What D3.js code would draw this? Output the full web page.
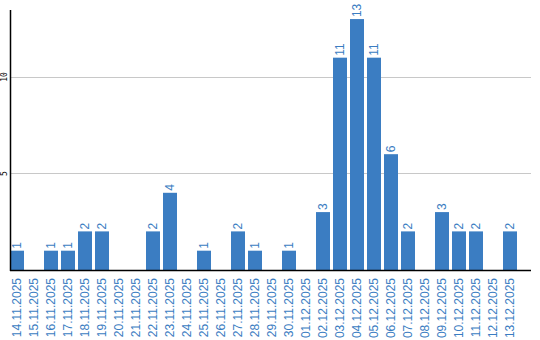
<!DOCTYPE html>
<html><head><meta charset="utf-8">
<script src="https://cdn.jsdelivr.net/npm/d3@7"></script>
<style>body{margin:0;background:#fff}svg{display:block}</style>
</head><body>
<script>
const categories = ["14.11.2025","15.11.2025","16.11.2025","17.11.2025","18.11.2025","19.11.2025","20.11.2025","21.11.2025","22.11.2025","23.11.2025","24.11.2025","25.11.2025","26.11.2025","27.11.2025","28.11.2025","29.11.2025","30.11.2025","01.12.2025","02.12.2025","03.12.2025","04.12.2025","05.12.2025","06.12.2025","07.12.2025","08.12.2025","09.12.2025","10.12.2025","11.12.2025","12.12.2025","13.12.2025"];
const values = [1,0,1,1,2,2,0,0,2,4,0,1,0,2,1,0,1,0,3,11,13,11,6,2,0,3,2,2,0,2];
const yTicks = [5,10];

const W = 540, H = 340;
const blue = "#3b7dc2";
const svg = d3.select("body").append("svg").attr("width", W).attr("height", H);

const x = d3.scaleBand().domain(categories).range([10, 517]).paddingInner(3/17).paddingOuter(0);
const y = d3.scaleLinear().domain([0, 13.47]).range([270, 10]);

// gridlines
svg.append("g").selectAll("line").data(yTicks).join("line")
  .attr("x1", 10).attr("x2", 531)
  .attr("y1", d => Math.round(y(d)) + 0.5).attr("y2", d => Math.round(y(d)) + 0.5)
  .attr("stroke", "#c8c8c8").attr("stroke-width", 1);

// y tick labels
svg.append("g").selectAll("text").data(yTicks).join("text")
  .attr("transform", d => `translate(7,${y(d)}) rotate(-90)`)
  .attr("text-anchor", "middle")
  .attr("font-family", "DejaVu Sans Mono, monospace").attr("font-size", 8)
  .attr("fill", "#000").text(d => d);

// bars
const data = categories.map((c, i) => ({c, v: values[i]}));
svg.append("g").selectAll("rect").data(data.filter(d => d.v > 0)).join("rect")
  .attr("x", d => x(d.c)).attr("width", x.bandwidth())
  .attr("y", d => y(d.v)).attr("height", d => y(0) - y(d.v))
  .attr("fill", blue);

// value labels
svg.append("g").selectAll("text").data(data.filter(d => d.v > 0)).join("text")
  .attr("transform", d => `translate(${x(d.c) + x.bandwidth()/2 + 4},${y(d.v) - 2}) rotate(-90)`)
  .attr("text-anchor", "start")
  .attr("font-family", "Liberation Sans, Arial, sans-serif").attr("font-size", 12)
  .attr("fill", blue).text(d => d.v);

// axes lines
svg.append("line").attr("x1", 10.5).attr("x2", 10.5).attr("y1", 10).attr("y2", 271)
  .attr("stroke", "#000").attr("stroke-width", 1.5);
svg.append("line").attr("x1", 10).attr("x2", 531).attr("y1", 270.5).attr("y2", 270.5)
  .attr("stroke", "#000").attr("stroke-width", 1.5);

// x labels
const xAxis = d3.axisBottom(x).tickSize(0).tickPadding(0);
const gx = svg.append("g").attr("transform", "translate(0,270)").call(xAxis);
gx.select(".domain").remove();
gx.selectAll("text")
  .attr("transform", "translate(4,8) rotate(-90)")
  .attr("x", 0).attr("y", 0).attr("dy", 0)
  .attr("text-anchor", "end")
  .attr("font-family", "Liberation Sans, Arial, sans-serif").attr("font-size", 12)
  .attr("fill", blue);
</script>
</body></html>
